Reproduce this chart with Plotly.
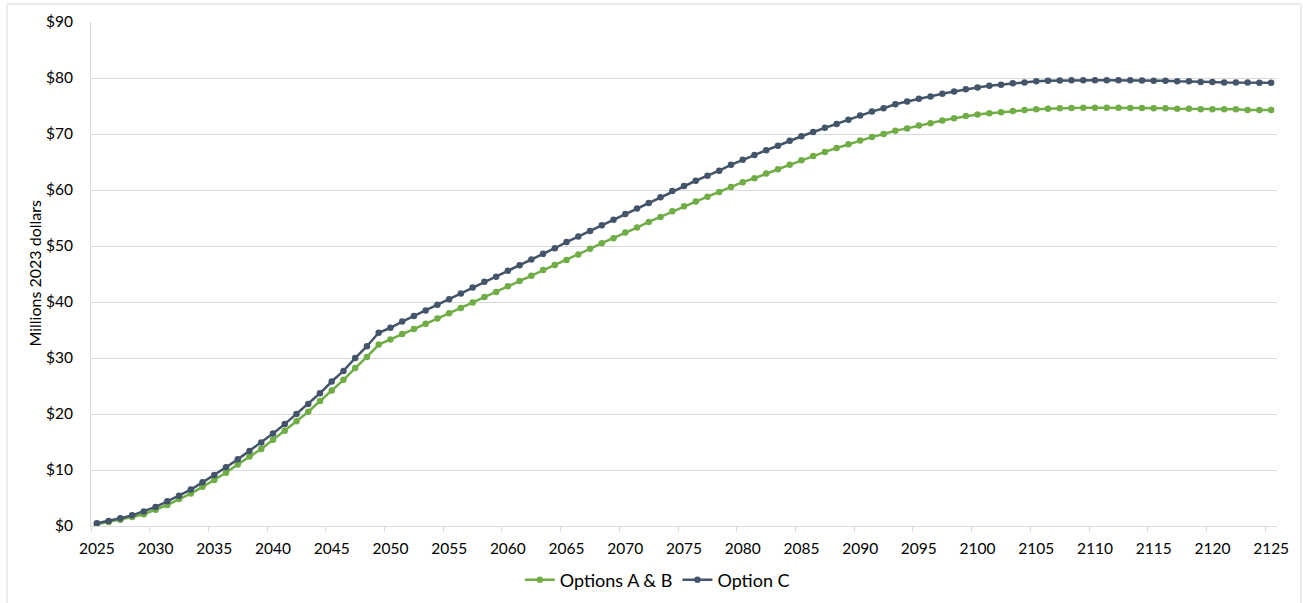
import plotly.graph_objects as go

# Years on the horizontal axis (one point per year)
years = list(range(2025, 2126))

# Cumulative value, millions of 2023 dollars
options_ab = [
    0.3, 0.7, 1.1, 1.6, 2.1, 2.9, 3.75, 4.8, 5.8, 7.0,
    8.2, 9.5, 11.0, 12.4, 13.75, 15.4, 17.0, 18.7, 20.4, 22.3,
    24.2, 26.1, 28.2, 30.2, 32.4, 33.3, 34.3, 35.2, 36.1, 37.05,
    38.0, 38.95, 39.9, 40.9, 41.8, 42.8, 43.75, 44.7, 45.7, 46.6,
    47.5, 48.5, 49.5, 50.5, 51.4, 52.4, 53.3, 54.3, 55.2, 56.2,
    57.1, 57.95, 58.8, 59.65, 60.55, 61.4, 62.1, 62.95, 63.7, 64.5,
    65.3, 66.05, 66.8, 67.5, 68.15, 68.85, 69.45, 70.0, 70.6, 71.0,
    71.5, 71.9, 72.4, 72.8, 73.2, 73.5, 73.7, 73.9, 74.1, 74.3,
    74.4, 74.5, 74.6, 74.65, 74.7, 74.7, 74.7, 74.7, 74.65, 74.65,
    74.6, 74.6, 74.5, 74.5, 74.4, 74.4, 74.4, 74.4, 74.3, 74.3,
    74.3,
]
option_c = [
    0.5, 0.9, 1.4, 1.9, 2.6, 3.4, 4.4, 5.4, 6.5, 7.8,
    9.1, 10.5, 11.9, 13.4, 14.9, 16.5, 18.2, 20.0, 21.8, 23.7,
    25.8, 27.7, 30.0, 32.1, 34.5, 35.4, 36.5, 37.5, 38.5, 39.5,
    40.5, 41.5, 42.6, 43.6, 44.5, 45.6, 46.55, 47.6, 48.6, 49.6,
    50.7, 51.7, 52.7, 53.7, 54.7, 55.7, 56.7, 57.7, 58.7, 59.8,
    60.7, 61.65, 62.55, 63.45, 64.5, 65.4, 66.25, 67.1, 67.9, 68.8,
    69.6, 70.35, 71.1, 71.8, 72.55, 73.3, 74.0, 74.6, 75.3, 75.8,
    76.3, 76.7, 77.2, 77.6, 78.0, 78.3, 78.6, 78.8, 79.05, 79.2,
    79.4, 79.5, 79.55, 79.6, 79.6, 79.6, 79.6, 79.6, 79.6, 79.55,
    79.5, 79.5, 79.4, 79.4, 79.3, 79.3, 79.2, 79.2, 79.2, 79.15,
    79.15,
]

series_names = ["Options A & B", "Option C"]
y_ticks = [0, 10, 20, 30, 40, 50, 60, 70, 80, 90]
x_ticks = years[::5]

GREEN = "#70AD47"
SLATE = "#44546A"
GRID = "#d9d9d9"
FONT = "Lato, 'Open Sans', sans-serif"

fig = go.Figure()
for name, vals, color in [(series_names[0], options_ab, GREEN),
                          (series_names[1], option_c, SLATE)]:
    fig.add_trace(go.Scatter(
        x=years, y=vals, name=name, mode="lines+markers",
        line=dict(color=color, width=2.5),
        marker=dict(color=color, size=6.5, symbol="circle"),
    ))

# Category-style boundaries: ticks sit between years, labels on the years
boundaries = [y - 0.5 for y in x_ticks]

fig.update_layout(
    width=1303, height=603,
    margin=dict(l=91, r=26, t=22, b=77, autoexpand=False),
    paper_bgcolor="white", plot_bgcolor="white",
    font=dict(family=FONT, size=15.5, color="#000000"),
    showlegend=True,
    legend=dict(orientation="h", x=0.4775, xanchor="center", y=-0.107,
                yanchor="middle", font=dict(size=18), itemwidth=30,
                traceorder="normal"),
    xaxis=dict(
        range=[years[0] - 0.5, years[-1] + 0.5],
        tickmode="array", tickvals=x_ticks,
        ticktext=[str(v) for v in x_ticks],
        ticks="", showgrid=False, zeroline=False, automargin=False,
        showline=True, linecolor=GRID, linewidth=1,
        ticklabelstandoff=8,
        minor=dict(tickmode="array", tickvals=boundaries, ticks="outside",
                   ticklen=5, tickcolor=GRID, tickwidth=1, showgrid=False),
    ),
    yaxis=dict(
        range=[0, 90], tickmode="array", tickvals=y_ticks,
        ticktext=[f"${v}" for v in y_ticks],
        showgrid=True, gridcolor=GRID, gridwidth=1, automargin=False,
        zeroline=False, showline=True, linecolor=GRID, linewidth=1,
        ticks="", ticklabelstandoff=14,
    ),
    annotations=[dict(
        text="Millions 2023 dollars", textangle=-90,
        xref="paper", yref="paper", x=-0.0476, y=0.502,
        xanchor="center", yanchor="middle", showarrow=False,
        font=dict(size=16),
    )],
    shapes=[dict(
        type="rect", xref="paper", yref="paper",
        x0=(7 - 91) / 1186, x1=(1301 - 91) / 1186,
        y0=-0.2, y1=(526 - 4) / 504,
        line=dict(color=GRID, width=1), fillcolor="rgba(0,0,0,0)",
        layer="below",
    )],
)

fig.write_html("out.html")
